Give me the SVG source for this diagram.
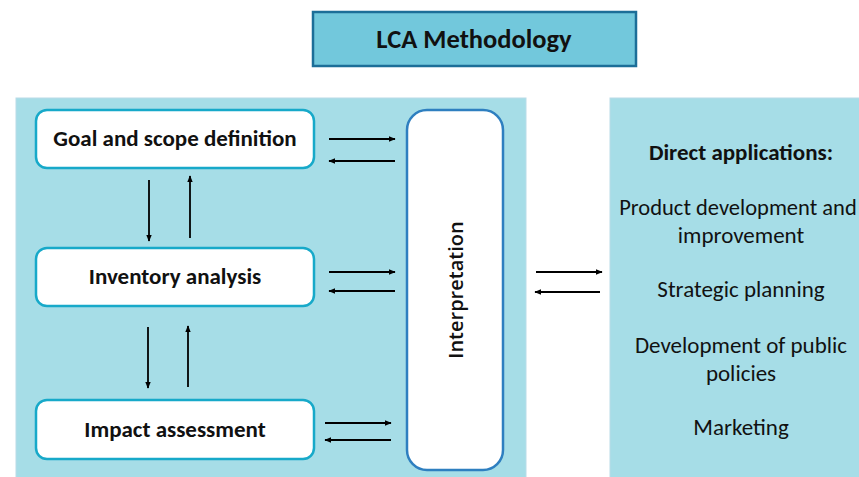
<svg xmlns="http://www.w3.org/2000/svg" width="859" height="477" viewBox="0 0 859 477">
<defs>
<marker id="ah" viewBox="0 0 10 10" refX="9" refY="5" markerWidth="7" markerHeight="7" orient="auto-start-reverse" markerUnits="userSpaceOnUse">
<path d="M0,1 L10,5 L0,9 z" fill="#000"/>
</marker>
<style>
.panel{fill:#a6dde7;stroke:#b9dce8;stroke-width:1}
.step{fill:#fff;stroke:#17a9c9;stroke-width:2.5}
.lbl{font-family:Carlito,Lato,"Liberation Sans",Arial,sans-serif;font-weight:bold;font-size:23px;fill:#111;text-anchor:middle}
.app{font-family:Carlito,Lato,"Liberation Sans",Arial,sans-serif;font-size:23px;fill:#111;text-anchor:middle}
.arr{stroke:#000;stroke-width:1.8;fill:none;marker-end:url(#ah)}
</style>
</defs>
<rect width="859" height="477" fill="#fff"/>
<g id="title">
<rect x="313" y="12" width="323" height="54" fill="#72c8dc" stroke="#1c6e98" stroke-width="2.5"/>
<text x="474" y="48" class="lbl" style="font-size:26.5px">LCA Methodology</text>
</g>
<g id="left-panel">
<rect class="panel" x="16" y="98" width="510" height="385"/>
</g>
<g id="right-panel">
<rect class="panel" x="610" y="98" width="260" height="385"/>
</g>
<g id="goal">
<rect class="step" x="36" y="110" width="278" height="58" rx="11"/>
<text x="175" y="146" class="lbl">Goal and scope definition</text>
</g>
<g id="inventory">
<rect class="step" x="36" y="248" width="278" height="58" rx="11"/>
<text x="175" y="284" class="lbl">Inventory analysis</text>
</g>
<g id="impact">
<rect class="step" x="36" y="400" width="278" height="59" rx="11"/>
<text x="175" y="437" class="lbl">Impact assessment</text>
</g>
<g id="interpretation">
<rect x="407" y="110" width="96" height="360" rx="20" fill="#fff" stroke="#2e7fc0" stroke-width="2.5"/>
<text transform="translate(463,290) rotate(-90)" text-anchor="middle" style="font-family:'Open Sans','Liberation Sans',sans-serif;font-weight:600;font-size:20px;fill:#111">Interpretation</text>
</g>
<g id="applications">
<text x="741" y="160" class="lbl">Direct applications:</text>
<text x="738" y="215" class="app" style="font-size:22.5px">Product development and</text>
<text x="741" y="243" class="app">improvement</text>
<text x="741" y="297" class="app">Strategic planning</text>
<text x="741" y="353" class="app">Development of public</text>
<text x="741" y="381" class="app">policies</text>
<text x="741" y="435" class="app">Marketing</text>
</g>
<g id="connectors">
<line class="arr" x1="329" y1="139" x2="395" y2="139"/>
<line class="arr" x1="395" y1="161" x2="329" y2="161"/>
<line class="arr" x1="329" y1="272" x2="395" y2="272"/>
<line class="arr" x1="395" y1="291" x2="329" y2="291"/>
<line class="arr" x1="325" y1="423" x2="391" y2="423"/>
<line class="arr" x1="391" y1="440" x2="325" y2="440"/>
<line class="arr" x1="149" y1="180" x2="149" y2="241"/>
<line class="arr" x1="190" y1="238" x2="190" y2="176"/>
<line class="arr" x1="148" y1="327" x2="148" y2="388"/>
<line class="arr" x1="188" y1="387" x2="188" y2="326"/>
<line class="arr" x1="536" y1="272" x2="602" y2="272"/>
<line class="arr" x1="600" y1="292" x2="535" y2="292"/>
</g>
</svg>
